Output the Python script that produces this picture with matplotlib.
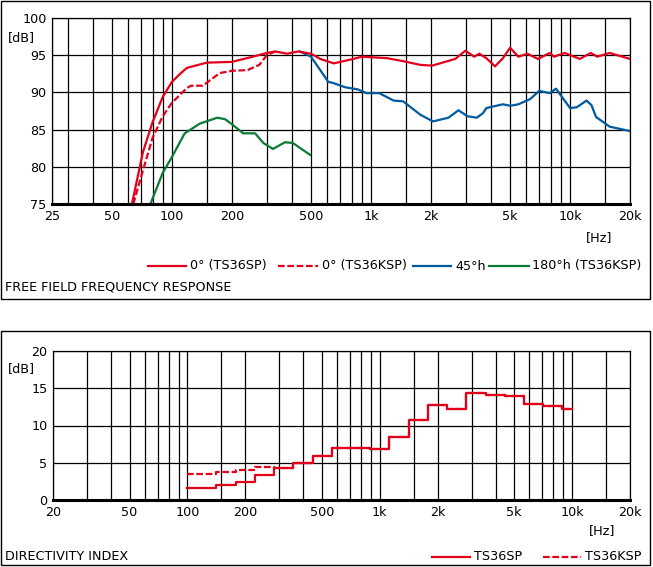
import numpy as np
import matplotlib
matplotlib.use("Agg")
import matplotlib.pyplot as plt
from matplotlib.lines import Line2D
from matplotlib.patches import Rectangle

plt.rcParams["font.family"] = ["DejaVu Sans"]
FS = 9.2

RED = "#e3001b"
BLUE = "#005a9c"
GREEN = "#0a7a34"

# ---- free field frequency response ----
f_0sp = [63, 66.8, 71.6, 80, 90, 100, 110, 119, 150, 200, 255, 300, 330, 380, 430, 500,
         556, 650, 815, 900, 1205, 1450, 1770, 2030, 2650, 2980, 3300, 3500, 3800,
         4200, 4600, 5000, 5500, 6100, 6900, 7900, 8300, 9400, 11200, 12700, 13700,
         15800, 20000]
db_0sp = [75, 78.2, 82, 86, 89.4, 91.4, 92.5, 93.3, 94.0, 94.1, 94.8, 95.3, 95.5, 95.2, 95.5, 95.2,
          94.5, 93.9, 94.5, 94.8, 94.6, 94.2, 93.7, 93.6, 94.5, 95.6, 94.8, 95.2, 94.6,
          93.5, 94.6, 96.0, 94.8, 95.2, 94.5, 95.3, 94.8, 95.3, 94.5, 95.3, 94.8,
          95.3, 94.5]

f_0ksp = [64, 71, 80, 90, 100, 119, 125, 143, 174, 200, 240, 275, 300, 330]
db_0ksp = [75, 79.2, 83.9, 86.8, 88.6, 90.6, 90.9, 90.9, 92.6, 92.9, 93.0, 93.7, 95.0, 95.5]

f_45 = [440, 500, 556, 611, 640, 740, 860, 950, 1100, 1300, 1450, 1770, 2050, 2450, 2750,
        3050, 3400, 3650, 3800, 4600, 5000, 5500, 6300, 7000, 7900, 8500, 9100, 10000,
        10800, 12100, 12800, 13500, 15800, 20000]
db_45 = [95.5, 94.8, 93.0, 91.4, 91.3, 90.7, 90.4, 89.9, 89.9, 88.9, 88.8, 87.0, 86.1, 86.6, 87.6,
         86.8, 86.6, 87.2, 87.9, 88.4, 88.2, 88.4, 89.1, 90.2, 89.9, 90.5, 89.4, 87.9,
         88.0, 88.9, 88.3, 86.7, 85.4, 84.8]

f_180 = [78, 90, 100, 116, 138, 169, 185, 203, 228, 262, 288, 322, 370, 405, 495]
db_180 = [75, 79.2, 81.3, 84.5, 85.8, 86.6, 86.4, 85.6, 84.5, 84.5, 83.2, 82.4, 83.3, 83.2, 81.6]

# ---- directivity index (1/3 octave steps) ----
di_f = [100, 141, 178, 224, 282, 355, 447, 562, 891, 1122, 1413, 1778, 2239, 2818,
        3548, 4467, 5623, 7079, 8913, 10000]
di_sp = [1.6, 2.0, 2.4, 3.3, 4.25, 5.0, 5.95, 7.0, 6.9, 8.4, 10.7, 12.8, 12.25, 14.3,
         14.1, 14.0, 12.9, 12.6, 12.2, 12.2]
di_ksp = [3.5, 3.8, 4.07, 4.4, 4.25, 5.0, 5.95, 7.0, 6.9, 8.4, 10.7, 12.8, 12.25, 14.3,
          14.1, 14.0, 12.9, 12.6, 12.2, 12.2]

top_grid = [25, 30, 40, 50, 60, 70, 80, 90, 100, 150, 200, 300, 400, 500, 600, 700, 800,
            900, 1000, 1500, 2000, 3000, 4000, 5000, 6000, 7000, 8000, 9000, 10000,
            15000, 20000]
top_labels = {25: "25", 50: "50", 100: "100", 200: "200", 500: "500", 1000: "1k",
              2000: "2k", 5000: "5k", 10000: "10k", 20000: "20k"}
bot_grid = [20, 30, 40, 50, 60, 70, 80, 90, 100, 150, 200, 300, 400, 500, 600, 700, 800,
            900, 1000, 1500, 2000, 3000, 4000, 5000, 6000, 7000, 8000, 9000, 10000,
            15000, 20000]
bot_labels = {20: "20", 50: "50", 100: "100", 200: "200", 500: "500", 1000: "1k",
              2000: "2k", 5000: "5k", 10000: "10k", 20000: "20k"}

W, H = 653, 567
fig = plt.figure(figsize=(W / 100, H / 100), dpi=100)


def fx(px):
    return px / W


def fy(py):
    return 1 - py / H


def box(x0, y0, x1, y1):
    fig.add_artist(Rectangle((fx(x0), fy(y1)), fx(x1) - fx(x0), fy(y0) - fy(y1),
                             transform=fig.transFigure, fill=False, lw=1, ec="black"))


def style(ax, grid, labels, ylim, yticks):
    ax.set_xscale("log")
    ax.set_xlim(grid[0], grid[-1])
    ax.set_ylim(*ylim)
    ax.set_xticks(grid)
    ax.set_xticklabels([labels.get(g, "") for g in grid])
    ax.xaxis.set_minor_locator(matplotlib.ticker.NullLocator())
    ax.set_yticks(yticks)
    ax.set_yticklabels([str(v) for v in yticks])
    ax.tick_params(length=0, labelsize=FS, pad=4)
    ax.grid(True, color="black", lw=0.9)
    for s in ["top", "right", "left"]:
        ax.spines[s].set_linewidth(0.9)
    ax.spines["bottom"].set_linewidth(2.2)
    ax.set_axisbelow(True)


def legend_item(x0, x1, y, color, ls, label, gap=4):
    fig.add_artist(Line2D([fx(x0), fx(x1)], [fy(y), fy(y)], color=color, lw=1.6, ls=ls,
                          transform=fig.transFigure))
    fig.text(fx(x1 + gap), fy(y), label, fontsize=FS, va="center", ha="left")


# top panel
box(1, 1, 650, 299)
ax1 = fig.add_axes([fx(52), fy(204), fx(630) - fx(52), fy(18) - fy(204)])
style(ax1, top_grid, top_labels, (75, 100), [75, 80, 85, 90, 95, 100])
ax1.plot(f_180, db_180, color=GREEN, lw=1.6)
ax1.plot(f_45, db_45, color=BLUE, lw=1.6)
ax1.plot(f_0ksp, db_0ksp, color=RED, lw=1.6, ls=(0, (3, 1.2)))
ax1.plot(f_0sp, db_0sp, color=RED, lw=1.6)
fig.text(fx(8), fy(38), "[dB]", fontsize=FS, va="center", ha="left")
fig.text(fx(586), fy(238), "[Hz]", fontsize=FS, va="center", ha="left")
legend_item(148, 186, 266, RED, "-", "0° (TS36SP)")
legend_item(278, 318, 266, RED, (0, (3, 1.2)), "0° (TS36KSP)")
legend_item(413, 451, 266, BLUE, "-", "45°h")
legend_item(489, 529, 266, GREEN, "-", "180°h (TS36KSP)", gap=3)
fig.text(fx(5), fy(287), "FREE FIELD FREQUENCY RESPONSE", fontsize=FS,
         va="center", ha="left")

# bottom panel
box(1, 331, 650, 565)
ax2 = fig.add_axes([fx(53), fy(500), fx(630) - fx(53), fy(351) - fy(500)])
style(ax2, bot_grid, bot_labels, (0, 20), [0, 5, 10, 15, 20])
ax2.step(di_f, di_ksp, where="post", color=RED, lw=1.6, ls=(0, (3, 1.2)))
ax2.step(di_f, di_sp, where="post", color=RED, lw=1.6)
fig.text(fx(8), fy(369), "[dB]", fontsize=FS, va="center", ha="left")
fig.text(fx(589), fy(531), "[Hz]", fontsize=FS, va="center", ha="left")
fig.text(fx(5), fy(557), "DIRECTIVITY INDEX", fontsize=FS, va="center", ha="left")
legend_item(432, 470, 557, RED, "-", "TS36SP")
legend_item(543, 581, 557, RED, (0, (3, 1.2)), "TS36KSP")

fig.savefig("out.png", dpi=100)
